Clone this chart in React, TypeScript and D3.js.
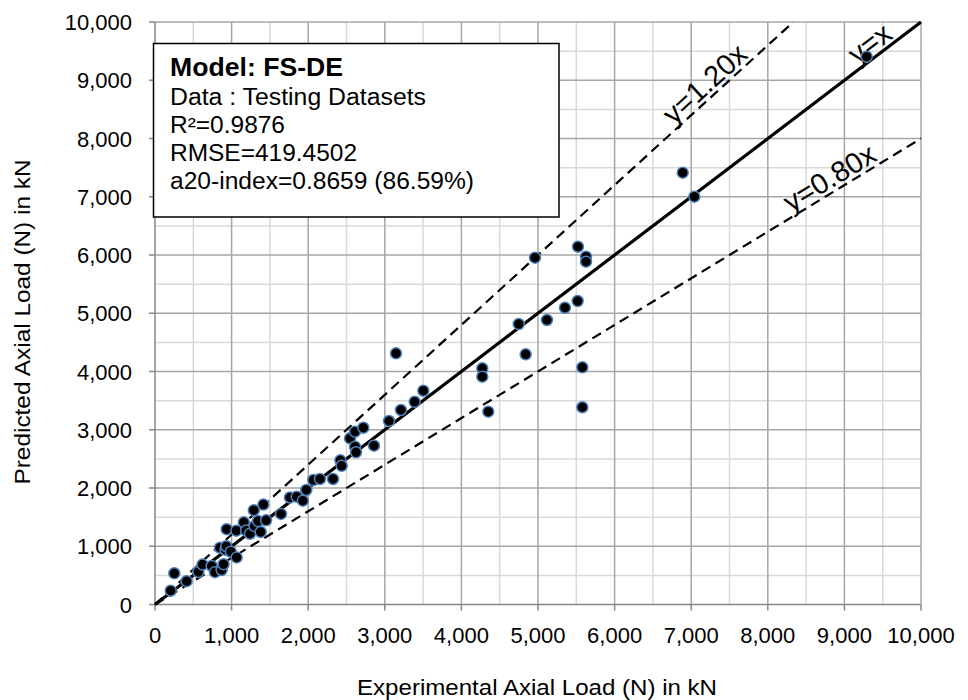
import React from "react";
import * as d3 from "d3";

const experimental = [
  205, 252, 413, 566, 620, 740, 783, 870, 895, 849, 920, 930, 990, 1066, 936, 1062,
  1160, 1190, 1240, 1300, 1345, 1380, 1450, 1290, 1415, 1645, 1762, 1850, 1930, 1975,
  2067, 2154, 2324, 2420, 2437, 2546, 2611, 2611, 2624, 2720, 2859, 3055, 3146, 3211,
  3390, 3503, 4273, 4273, 4351, 4748, 4839, 4961, 5117, 5352, 5518, 5522, 5579, 5579,
  5627, 5627, 6889, 7041, 9291,
];
const predicted = [
  237, 536, 400, 560, 685, 661, 555, 592, 693, 975, 940, 1000, 906, 808, 1293, 1267,
  1410, 1270, 1215, 1345, 1432, 1245, 1445, 1620, 1715, 1555, 1837, 1851, 1782, 1966,
  2137, 2155, 2155, 2475, 2380, 2853, 2967, 2710, 2613, 3035, 2727, 3150, 4312, 3339,
  3480, 3670, 4055, 3911, 3310, 4815, 4295, 5954, 4884, 5095, 5210, 6143, 4072, 3386,
  5971, 5885, 7413, 7001, 9405,
];
const tickValues = [0, 1000, 2000, 3000, 4000, 5000, 6000, 7000, 8000, 9000, 10000];
const gridMinor = [500, 1500, 2500, 3500, 4500, 5500, 6500, 7500, 8500, 9500];
const refLines = [
  { slope: 1.2, label: "y=1.20x", at: 7300, dash: true },
  { slope: 1.0, label: "y=x", at: 9440, dash: false },
  { slope: 0.8, label: "y=0.80x", at: 8900, dash: true },
];
const infoLines = [
  { text: "Data : Testing Datasets", len: 256 },
  { text: "R²=0.9876", len: 115 },
  { text: "RMSE=419.4502", len: 187 },
  { text: "a20-index=0.8659 (86.59%)", len: 304 },
];
const infoTitle = "Model: FS-DE";
const xTitle = "Experimental Axial Load (N) in kN";
const yTitle = "Predicted Axial Load (N) in kN";

const FONT = "'Liberation Sans', Arial, sans-serif";

export default function App() {
  const W = 968;
  const H = 700;
  const x = d3.scaleLinear().domain([0, 10000]).range([155, 921]);
  const y = d3.scaleLinear().domain([0, 10000]).range([604.5, 22]);
  const fmt = d3.format(",");
  const points = experimental.map((e, i) => ({ e, p: predicted[i] }));

  return (
    <svg
      width={W}
      height={H}
      style={{ position: "absolute", left: 0, top: 0, background: "#fff" }}
      fontFamily={FONT}
    >
      <rect x={0} y={0} width={W} height={H} fill="#fff" />
      {/* minor grid */}
      {gridMinor.map((v) => (
        <g key={"m" + v}>
          <line x1={x(v)} x2={x(v)} y1={y(0)} y2={y(10000)} stroke="#d9d9d9" strokeWidth={1.5} />
          <line x1={x(0)} x2={x(10000)} y1={y(v)} y2={y(v)} stroke="#d9d9d9" strokeWidth={1.5} />
        </g>
      ))}
      {/* major grid */}
      {tickValues.slice(1).map((v) => (
        <g key={"M" + v}>
          <line x1={x(v)} x2={x(v)} y1={y(0)} y2={y(10000)} stroke="#a6a6a6" strokeWidth={1.5} />
          <line x1={x(0)} x2={x(10000)} y1={y(v)} y2={y(v)} stroke="#a6a6a6" strokeWidth={1.5} />
        </g>
      ))}
      {/* axes */}
      <line x1={x(0)} x2={x(10000)} y1={y(0)} y2={y(0)} stroke="#868686" strokeWidth={1.5} />
      <line x1={x(0)} x2={x(0)} y1={y(0)} y2={y(10000)} stroke="#868686" strokeWidth={1.5} />
      {tickValues.map((v) => (
        <g key={"t" + v}>
          <line x1={x(v)} x2={x(v)} y1={y(0)} y2={y(0) + 6} stroke="#868686" strokeWidth={1.5} />
          <line x1={x(0) - 6} x2={x(0)} y1={y(v)} y2={y(v)} stroke="#868686" strokeWidth={1.5} />
          <text x={x(v)} y={y(0) + 38} textAnchor="middle" fontSize={22} fill="#000">
            {fmt(v)}
          </text>
          <text x={x(0) - 23} y={y(v) + 8} textAnchor="end" fontSize={22} fill="#000">
            {fmt(v)}
          </text>
        </g>
      ))}
      {/* reference lines */}
      {refLines.map((r) => {
        const xEnd = Math.min(10000, 10000 / r.slope);
        return (
          <line
            key={r.label}
            x1={x(0)}
            y1={y(0)}
            x2={x(xEnd)}
            y2={y(r.slope * xEnd)}
            stroke="#000"
            strokeWidth={r.dash ? 2.2 : 3.2}
            strokeDasharray={r.dash ? "10,6" : undefined}
          />
        );
      })}
      {refLines.map((r) => {
        const px = x(r.at);
        const py = y(r.slope * r.at);
        const ang =
          (Math.atan2(y(r.slope * 1000) - y(0), x(1000) - x(0)) * 180) / Math.PI;
        return (
          <text
            key={"l" + r.label}
            x={px}
            y={py}
            dy={-4}
            textAnchor="middle"
            fontSize={29}
            transform={`rotate(${ang} ${px} ${py})`}
            fill="#000"
          >
            {r.label}
          </text>
        );
      })}
      {/* points */}
      {points.map((d, i) => (
        <circle
          key={i}
          cx={x(d.e)}
          cy={y(d.p)}
          r={5.5}
          fill="#000"
          stroke="#4f81bd"
          strokeWidth={1.5}
        />
      ))}
      {/* info box */}
      <rect x={153.5} y={43.5} width={405.5} height={173.5} fill="#fff" stroke="#000" strokeWidth={1.5} />
      <text
        x={170}
        y={76}
        fontSize={25}
        fontWeight="bold"
        fill="#000"
        textLength={173}
        lengthAdjust="spacingAndGlyphs"
      >
        {infoTitle}
      </text>
      {infoLines.map((t, i) => (
        <text
          key={t.text}
          x={170}
          y={104.5 + i * 28.3}
          fontSize={23}
          fill="#000"
          textLength={t.len}
          lengthAdjust="spacingAndGlyphs"
        >
          {t.text}
        </text>
      ))}
      {/* axis titles */}
      <text
        x={537}
        y={695}
        textAnchor="middle"
        fontSize={22}
        fill="#000"
        textLength={360}
        lengthAdjust="spacingAndGlyphs"
      >
        {xTitle}
      </text>
      <text
        x={0}
        y={0}
        textAnchor="middle"
        fontSize={22}
        fill="#000"
        textLength={325}
        lengthAdjust="spacingAndGlyphs"
        transform={`translate(30, 322) rotate(-90)`}
      >
        {yTitle}
      </text>
    </svg>
  );
}
